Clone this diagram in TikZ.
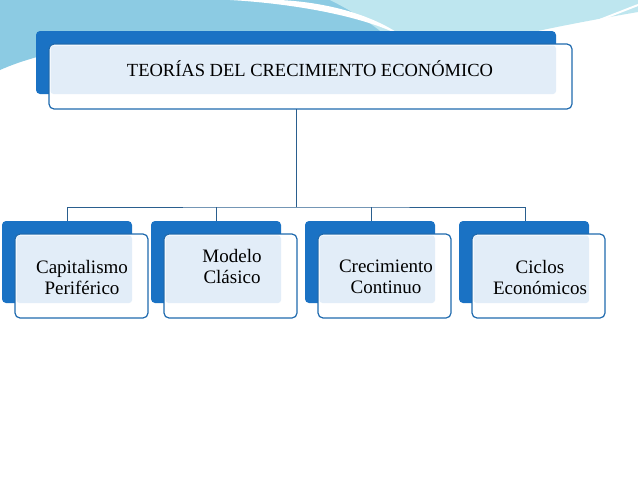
\documentclass[tikz,border=0pt]{standalone}
\usepackage{fontspec}
\setmainfont{Liberation Serif}
\definecolor{bk}{HTML}{1A72C4}
\definecolor{lf}{HTML}{E2EDF8}
\definecolor{fr}{HTML}{1F6AAE}
\definecolor{sw1}{HTML}{8CCBE3}
\definecolor{sw2}{HTML}{BEE6EF}
\definecolor{ln}{HTML}{2A5E8E}
\begin{document}
\begin{tikzpicture}[x=1pt,y=-1pt,
  back/.style={fill=bk,rounded corners=4pt},
  front/.style={draw=fr,line width=1.2pt,fill=white,rounded corners=5pt},
  lbl/.style={align=center,font=\fontsize{19}{21}\selectfont},
  conn/.style={draw=ln,line width=1pt}]
\useasboundingbox (0,0) rectangle (638,479);
\fill[white] (0,0) rectangle (638,479);
% swoosh
\fill[sw1] (0,0) -- (638,0) -- (638,10) .. controls (560,20) and (470,45) .. (400,70) .. controls (250,35) and (90,30) .. (0,70) -- cycle;
\fill[sw2] (330,0) -- (638,0) -- (638,12) .. controls (580,22) and (480,40) .. (410,66) .. controls (400,40) and (360,15) .. (330,0) -- cycle;
\fill[white] (230,0) .. controls (300,4) and (370,18) .. (405,38) .. controls (370,12) and (320,2) .. (280,0) -- cycle;
\draw[white,line width=2pt] (560,35) .. controls (600,20) and (620,12) .. (638,5);
% top
\fill[back] (36,31) rectangle (556,94);
\path[front] (49,44) rectangle (572,109);
\fill[lf,rounded corners=3pt] (50.5,45.5) rectangle (556,94);
\node[font=\fontsize{18.5}{21}\selectfont] (top) at (310,69) {TEORÍAS DEL CRECIMIENTO ECONÓMICO};
\coordinate (tb) at (296,109);
\coordinate (hj) at (296,207);
% bottom boxes
\foreach \x in {2,151,305,459}{
  \fill[back] (\x,221) rectangle (\x+130,303);
  \path[front] (\x+13,234) rectangle (\x+146,318);
  \fill[lf,rounded corners=3pt] (\x+14.5,235.5) rectangle (\x+130,303);
}
\node[lbl] (a) at (82,277) {Capitalismo\\Periférico};
\node[lbl] (b) at (232,266) {Modelo\\Clásico};
\node[lbl] (c) at (386,277) {Crecimiento\\Continuo};
\node[lbl] (d) at (540,277) {Ciclos\\Económicos};
\coordinate (ta) at (67,221);\coordinate (tbb) at (216,221);\coordinate (tc) at (371,221);\coordinate (td) at (525,221);
\draw[conn] (tb) -- (hj);
\draw[conn] (ta) |- (hj) -| (td);
\draw[conn] (tbb) -- (216,207);
\draw[conn] (tc) -- (371,207);
\end{tikzpicture}
\end{document}
